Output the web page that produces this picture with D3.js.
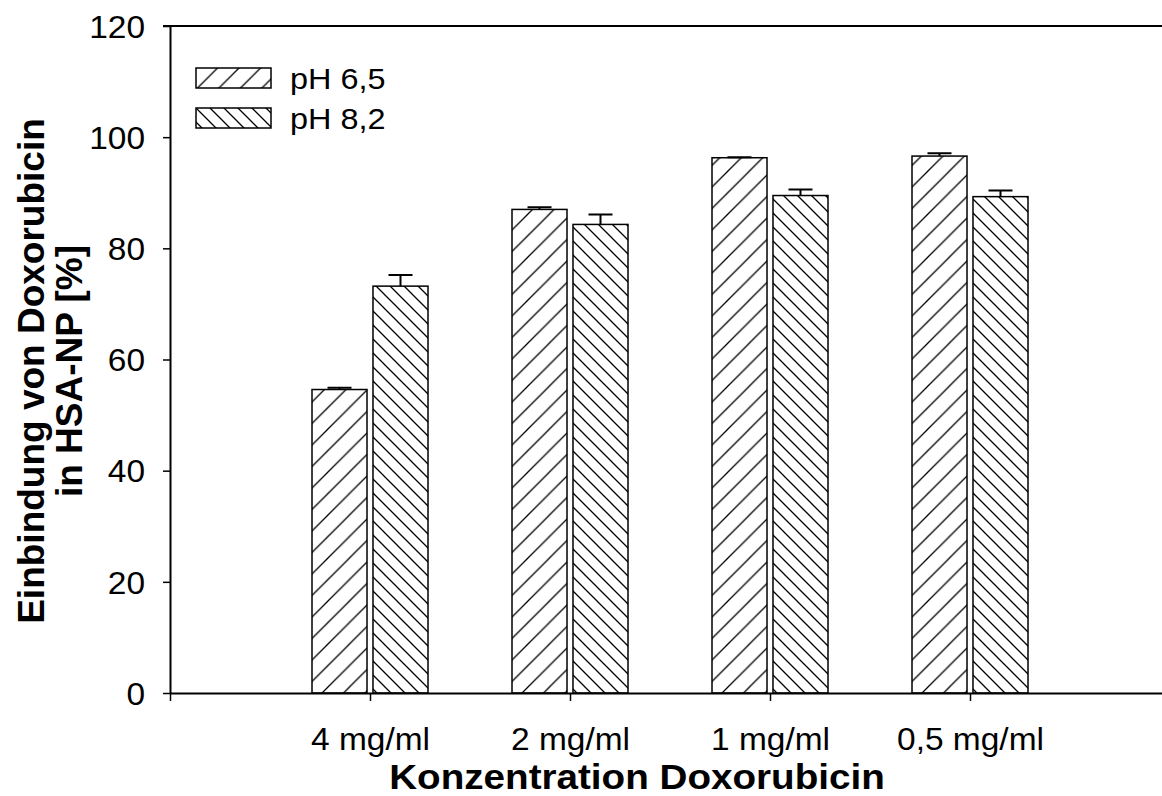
<!DOCTYPE html>
<html>
<head>
<meta charset="utf-8">
<script src="https://cdn.jsdelivr.net/npm/d3@7"></script>
<style>
  body { margin: 0; background: #fff; }
  svg { display: block; font-family: "Liberation Sans", Arial, sans-serif; }
</style>
</head>
<body>
<div id="chart"></div>
<script>
// data
const categories = ["4 mg/ml", "2 mg/ml", "1 mg/ml", "0,5 mg/ml"];
const series = ["pH 6,5", "pH 8,2"];
const valuesPH65 = [54.6, 87.0, 96.3, 96.6];
const errorsPH65 = [0.3, 0.4, 0.1, 0.5];
const valuesPH82 = [73.2, 84.3, 89.5, 89.3];
const errorsPH82 = [2.0, 1.8, 1.1, 1.1];
const yTicks = [0, 20, 40, 60, 80, 100, 120];

const W = 1162, H = 796;
const stretch = 1.08; // text in the original is a bit wider than normal

const svg = d3.select("#chart").append("svg")
  .attr("width", W)
  .attr("height", H);

// hatch patterns
const defs = svg.append("defs");
function hatch(id, s, forward) {
  const p = defs.append("pattern")
    .attr("id", id)
    .attr("patternUnits", "userSpaceOnUse")
    .attr("width", s)
    .attr("height", s);
  p.append("rect").attr("width", s).attr("height", s).attr("fill", "#fff");
  const d = forward
    ? `M0,${s} L${s},0 M${-s/4},${s/4} L${s/4},${-s/4} M${3*s/4},${5*s/4} L${5*s/4},${3*s/4}`
    : `M0,0 L${s},${s} M${-s/4},${3*s/4} L${s/4},${5*s/4} M${3*s/4},${-s/4} L${5*s/4},${s/4}`;
  p.append("path").attr("d", d).attr("stroke", "#000").attr("stroke-width", 1.3).attr("fill", "none");
}
hatch("h65", 21.5, true);
hatch("h82", 14, false);
const fills = ["url(#h65)", "url(#h82)"];

const x = d3.scaleLinear().domain([0, 5]).range([170, 1170]);
const y = d3.scaleLinear().domain([0, 120]).range([693, 26]);
const sub = d3.scaleBand().domain(series).range([-58, 58]).paddingInner(0.098);

const rows = categories.map((c, i) => ({
  cat: c, i: i,
  vals: [
    { s: series[0], v: valuesPH65[i], e: errorsPH65[i] },
    { s: series[1], v: valuesPH82[i], e: errorsPH82[i] }
  ]
}));

// top frame line
svg.append("line")
  .attr("x1", x(0) - 7).attr("x2", W)
  .attr("y1", y(120)).attr("y2", y(120))
  .attr("stroke", "#000").attr("stroke-width", 2);

// bars
const groups = svg.append("g").selectAll("g")
  .data(rows)
  .join("g")
  .attr("transform", d => `translate(${x(d.i + 1)},0)`);

groups.selectAll("rect")
  .data(d => d.vals)
  .join("rect")
  .attr("x", d => sub(d.s))
  .attr("width", sub.bandwidth())
  .attr("y", d => y(d.v))
  .attr("height", d => y(0) - y(d.v))
  .attr("fill", (d, k) => fills[k])
  .attr("stroke", "#000")
  .attr("stroke-width", 1.5);

// error bars (upper only)
groups.selectAll("path.err")
  .data(d => d.vals)
  .join("path")
  .attr("class", "err")
  .attr("d", d => {
    const cx = sub(d.s) + sub.bandwidth() / 2;
    return `M${cx},${y(d.v)} V${y(d.v + d.e)} M${cx - 12},${y(d.v + d.e)} H${cx + 12}`;
  })
  .attr("stroke", "#000")
  .attr("stroke-width", 2)
  .attr("fill", "none");

// x axis
const xAxis = svg.append("g")
  .attr("transform", `translate(0,${y(0)})`)
  .call(d3.axisBottom(x)
    .tickValues([0, 1, 2, 3, 4])
    .tickSize(8)
    .tickSizeOuter(0)
    .tickFormat(d => d === 0 ? "" : categories[d - 1]));
xAxis.select(".domain").attr("stroke-width", 2);
xAxis.selectAll(".tick line").attr("stroke-width", 1.5);
xAxis.selectAll(".tick text")
  .attr("y", 0).attr("dy", 0)
  .attr("transform", `translate(0,57) scale(${stretch},1)`)
  .attr("font-size", 31)
  .attr("font-family", "Liberation Sans, Arial, sans-serif")
  .attr("fill", "#000");

// y axis
const yAxis = svg.append("g")
  .attr("transform", `translate(${x(0)},0)`)
  .call(d3.axisLeft(y)
    .tickValues(yTicks)
    .tickSize(7)
    .tickSizeOuter(0));
yAxis.select(".domain").attr("stroke-width", 2);
yAxis.selectAll(".tick line").attr("stroke-width", 1.5);
yAxis.selectAll(".tick text")
  .attr("x", -25 / stretch)
  .attr("dy", "0.36em")
  .attr("transform", `scale(${stretch},1)`)
  .attr("font-size", 31)
  .attr("font-family", "Liberation Sans, Arial, sans-serif")
  .attr("fill", "#000");

// axis titles
svg.append("text")
  .attr("transform", `translate(637,789) scale(1.12,1)`)
  .attr("text-anchor", "middle")
  .attr("font-size", 34.5)
  .attr("font-weight", "bold")
  .text("Konzentration Doxorubicin");

const yTitle = ["Einbindung von Doxorubicin", "in HSA-NP [%]"];
svg.append("g").selectAll("text")
  .data(yTitle)
  .join("text")
  .attr("transform", (d, k) => `translate(${k === 0 ? 44 : 82},371) rotate(-90)`)
  .attr("text-anchor", "middle")
  .attr("font-size", 37)
  .attr("font-weight", "bold")
  .text(d => d);

// legend
const legend = svg.append("g").selectAll("g")
  .data(series)
  .join("g")
  .attr("transform", (d, k) => `translate(196,${68 + k * 40})`);
legend.append("rect")
  .attr("width", 75).attr("height", 20)
  .attr("fill", (d, k) => fills[k])
  .attr("stroke", "#000").attr("stroke-width", 1.5);
legend.append("text")
  .attr("transform", `translate(94,21) scale(${stretch},1)`)
  .attr("font-size", 30)
  .text(d => d);
</script>
</body>
</html>
